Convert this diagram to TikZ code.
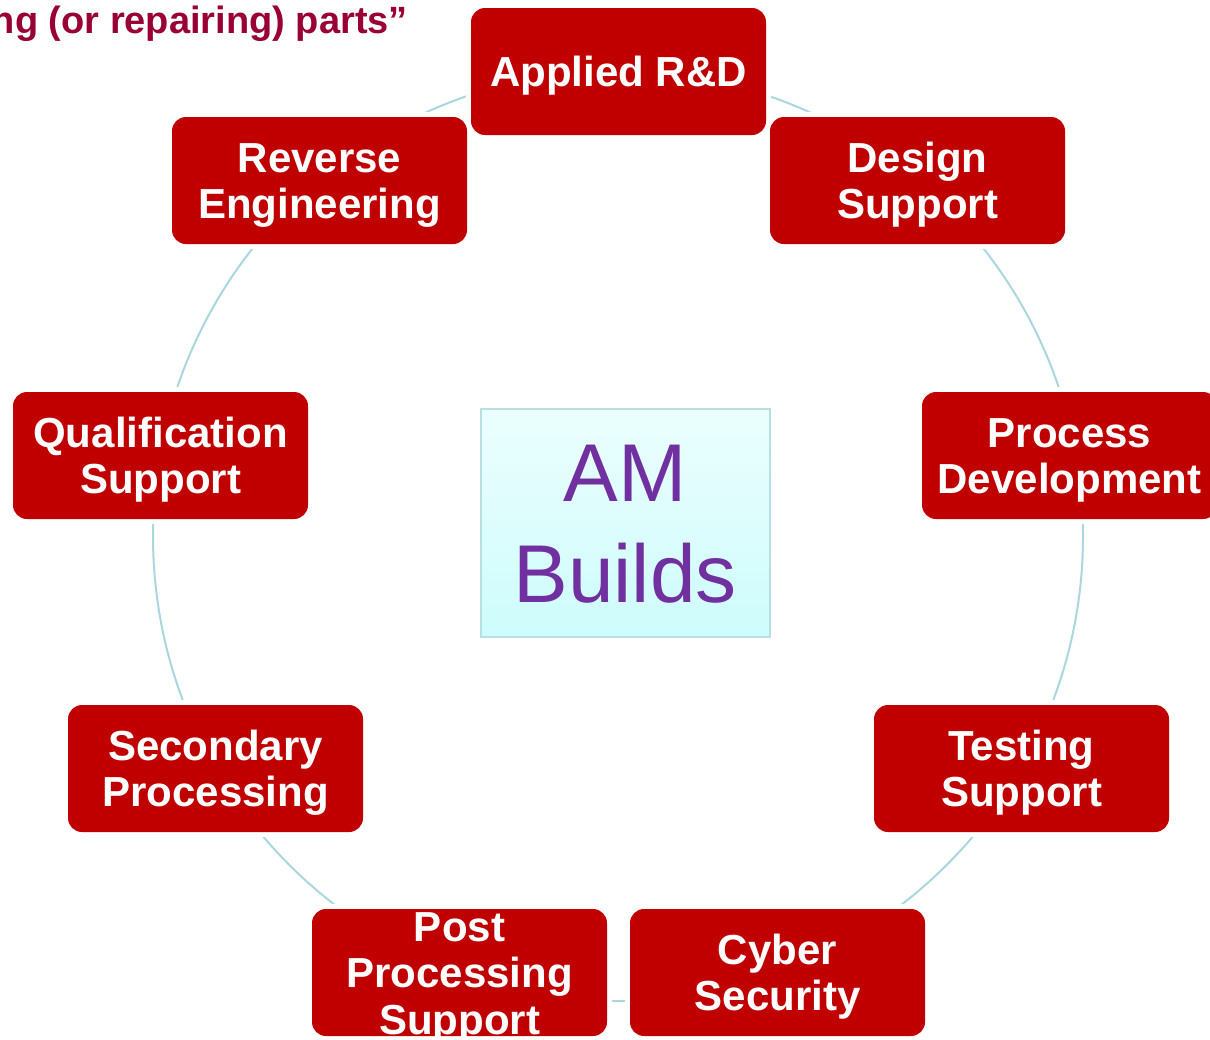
\documentclass[tikz,border=0pt]{standalone}
\usepackage{fontspec}
\setmainfont{Liberation Sans}
\usetikzlibrary{backgrounds}
\definecolor{stagered}{RGB}{192,0,0}
\definecolor{ringblue}{RGB}{170,215,222}
\definecolor{hubedge}{RGB}{184,224,226}
\definecolor{hubtop}{RGB}{236,254,254}
\definecolor{hubbottom}{RGB}{206,252,252}
\definecolor{hubtext}{RGB}{112,48,160}
\definecolor{titlered}{RGB}{153,0,51}
% first line carries the cap height, every line is smashed so that
% the text block is centred between the first cap top and the last baseline
\newcommand\firstln[1]{\rule{0pt}{0.716em}\smash{#1}}
\newcommand\nextln[1]{\smash{#1}}
\begin{document}
\begin{tikzpicture}[x=1pt,y=-1pt,
  stage/.style={rounded corners=14, fill=stagered,
    minimum width=295, minimum height=127, inner sep=0, text=white, align=center,
    font=\fontsize{42}{46.5}\selectfont\bfseries},
  halo/.style={fill=white, rounded corners=19},
  hubbox/.style={top color=hubtop, bottom color=hubbottom, draw=hubedge, line width=2,
    minimum width=289, minimum height=228, inner sep=0, text=hubtext, align=center,
    font=\fontsize{82}{101}\selectfont},
  ring/.style={draw=ringblue, line width=2}]
\useasboundingbox (0,0) rectangle (1210,1039);
\clip (0,0) rectangle (1210,1039);

% heading fragment
\node[anchor=base east, inner sep=0, text=titlered,
  font=\fontsize{38}{44}\selectfont\bfseries] (caption) at (408,33)
  {ng (or repairing) parts”};

% centre
\node[hubbox] (am) at (625,522.5) {\firstln{AM}\\\nextln{Builds}};

% stages around the ring
\node[stage] (ard)   at (618.5,71.5)   {\firstln{Applied R\&D}};
\node[stage] (des)   at (917.5,180.5)  {\firstln{Design}\\\nextln{Support}};
\node[stage] (proc)  at (1069.5,455.5) {\firstln{Process}\\\nextln{Development}};
\node[stage] (test)  at (1021.5,768.5) {\firstln{Testing}\\\nextln{Support}};
\node[stage] (cyber) at (777.5,972.5)  {\firstln{Cyber}\\\nextln{Security}};
\node[stage] (post)  at (459.5,972.5)  {\firstln{Post}\\\nextln{Processing}\\\nextln{Support}};
\node[stage] (sec)   at (215.5,768.5)  {\firstln{Secondary}\\\nextln{Processing}};
\node[stage] (qual)  at (160.5,455.5)  {\firstln{Qualification}\\\nextln{Support}};
\node[stage] (rev)   at (319.5,180.5)  {\firstln{Reverse}\\\nextln{Engineering}};

% cycle ring behind the stages, broken by a white margin round each stage
\begin{scope}[on background layer]
  \coordinate (hub) at (618,536);
  \draw[ring] (hub) circle[radius=465];
  \foreach \s in {ard,des,proc,test,cyber,post,sec,qual,rev}
    \fill[halo] ([shift={(-5,5)}]\s.south west) rectangle ([shift={(5,-5)}]\s.north east);
\end{scope}
\end{tikzpicture}
\end{document}
